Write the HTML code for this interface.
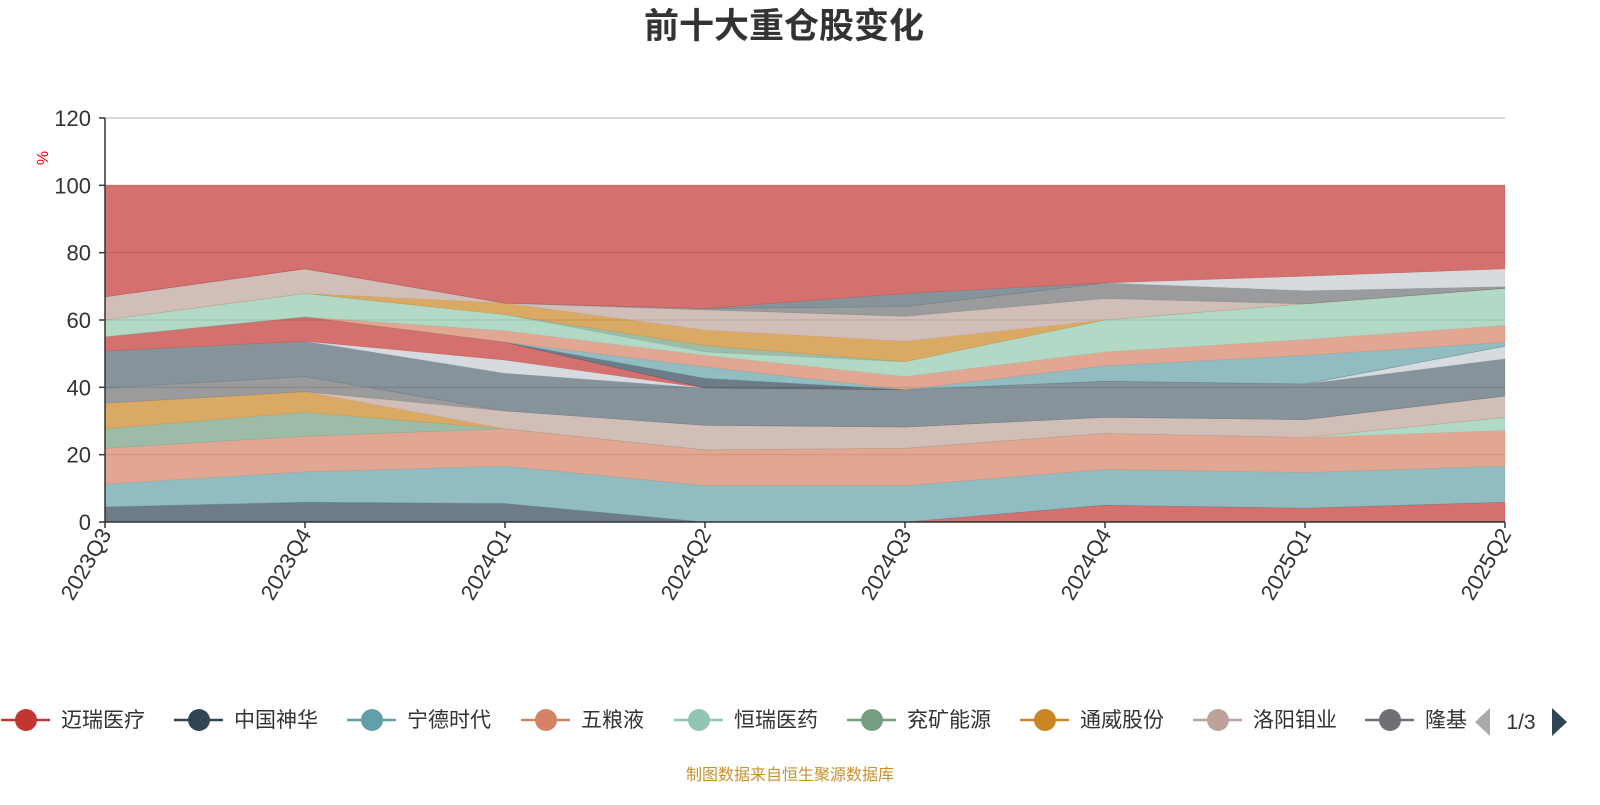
<!DOCTYPE html>
<html><head><meta charset="utf-8">
<style>
html,body{margin:0;padding:0;background:#fff;}
body{width:1600px;height:800px;overflow:hidden;font-family:"Liberation Sans","Noto Sans CJK SC",sans-serif;}
</style></head>
<body>
<svg id="chart" width="1600" height="800" xmlns="http://www.w3.org/2000/svg" font-family="Liberation Sans, Noto Sans CJK SC, sans-serif">
<text x="784" y="38" text-anchor="middle" font-size="35" font-weight="bold" fill="#333">前十大重仓股变化</text>
<g id="grid"></g>
<g id="areas"></g>
<g id="axes"></g>
<text x="48" y="158" fill="#e00" font-size="16" text-anchor="middle" transform="rotate(-90 48 158)">%</text>
<g id="legend"></g>
<g>
<polygon points="1490,708 1490,736 1475,722" fill="#aaa"/>
<text x="1521" y="729" text-anchor="middle" font-size="21" fill="#333">1/3</text>
<polygon points="1552,708 1552,736 1567,722" fill="#2f4554"/>
</g>
<text x="790" y="780" text-anchor="middle" font-size="16" fill="#c8912b">制图数据来自恒生聚源数据库</text>
</svg>
<script>
const categories = ["2023Q3","2023Q4","2024Q1","2024Q2","2024Q3","2024Q4","2025Q1","2025Q2"];
const yTicks = [0,20,40,60,80,100,120];
const seriesNames = ["迈瑞医疗","中国神华","宁德时代","五粮液","恒瑞医药","兖矿能源","通威股份","洛阳钼业","隆基绿能","紫金矿业","贵州茅台","招商银行","长江电力","美的集团","泸州老窖","药明康德","中国海油","万华化学","山西汾酒","伊利股份","海尔智家","比亚迪","其他"];
const s1 = [0,0,0,0,0,5.0,4.1,5.9];
const s2 = [4.5,5.9,5.5,0,0,0,0,0];
const s3 = [6.8,9.0,11.1,10.8,10.8,10.6,10.6,10.7];
const s4 = [10.6,10.6,11.1,10.6,11.1,10.7,10.4,10.6];
const s5 = [0,0,0,0,0,0,0,3.9];
const s6 = [5.8,7.1,0,0,0,0,0,0];
const s7 = [7.6,6.1,0,0,0,0,0,0];
const s8 = [0,0,5.3,7.3,6.3,4.8,5.3,6.3];
const s9 = [4.5,4.5,0,0,0,0,0,0];
const s10 = [11.0,10.5,11.2,11.1,11.1,10.7,10.6,11.1];
const s11 = [0,0,3.9,0,0,0,0,3.7];
const s12 = [4.2,7.2,5.3,0,0,0,0,0];
const s13 = [0,0,0,2.9,0,0,0,0];
const s14 = [0,0,0,3.4,0,4.6,8.5,1.2];
const s15 = [0,0,3.4,3.4,3.9,4.1,4.7,5.0];
const s16 = [5,7,4.8,1,4.4,9.5,10.6,11];
const s17 = [0,0,0,1.9,0,0,0,0];
const s18 = [0,0,3.4,4.6,6.1,0,0,0];
const s19 = [6.9,7.3,0,6.0,7.4,6.4,0,0];
const s20 = [0,0,0,0.4,2.9,4.6,3.9,0.5];
const s21 = [0,0,0,0,3.9,0,0,0];
const s22 = [0,0,0,0,0,0,4.3,5.3];
const totalTarget = [100,100,100,100,100,100,100,100];

const palette = ["#c23531","#2f4554","#61a0a8","#d48265","#91c7ae","#749f83","#ca8622","#bda29a","#6e7074","#546570","#c4ccd3"];
const NS="http://www.w3.org/2000/svg";
const X0=105,X1=1505,Y0=522,Y1=118,YMAX=120;
const xPos=i=>X0+i*(X1-X0)/(categories.length-1);
const yPos=v=>Y0-v*(Y0-Y1)/YMAX;
function mk(t,a,p){const e=document.createElementNS(NS,t);for(const k in a)e.setAttribute(k,a[k]);p.appendChild(e);return e;}

const grid=document.getElementById('grid');
yTicks.forEach(v=>{ if(v===0) return;
  const l=mk('line',{x1:X0,x2:X1,y1:yPos(v),y2:yPos(v),stroke:'#ccc','stroke-width':1.5},grid);
  
  
});

const list=[s1,s2,s3,s4,s5,s6,s7,s8,s9,s10,s11,s12,s13,s14,s15,s16,s17,s18,s19,s20,s21,s22];
const sums=categories.map((c,i)=>list.reduce((a,s)=>a+s[i],0));
list.push(totalTarget.map((t,i)=>t-sums[i]));
const areas=document.getElementById('areas');
let base=categories.map(()=>0);
list.forEach((s,k)=>{
  const top=base.map((b,i)=>b+s[i]);
  let d='M'+top.map((v,i)=>xPos(i)+','+yPos(v)).join(' L');
  for(let i=categories.length-1;i>=0;i--) d+=' L'+xPos(i)+','+yPos(base[i]);
  d+='Z';
  const col=palette[k%palette.length];
  const p=mk('path',{d:d,fill:col,'fill-opacity':0.7,stroke:col,'stroke-opacity':0.35,'stroke-width':0.6},areas);
  
  
  base=top;
});

const axes=document.getElementById('axes');
const ya=mk('line',{x1:X0,x2:X0,y1:Y1,y2:Y0,stroke:'#333','stroke-width':1.5},axes);


const xa=mk('line',{x1:X0,x2:X1,y1:Y0,y2:Y0,stroke:'#333','stroke-width':1.5},axes);


yTicks.forEach(v=>{
  mk('line',{x1:X0-6,x2:X0,y1:yPos(v),y2:yPos(v),stroke:'#333','stroke-width':1.5},axes);
  const t=mk('text',{x:X0-14,y:yPos(v)+8,'text-anchor':'end','font-size':22,fill:'#333'},axes);
  t.textContent=v;
  
  
});
categories.forEach((c,i)=>{
  const x=xPos(i);
  mk('line',{x1:x,x2:x,y1:Y0,y2:Y0+6,stroke:'#333','stroke-width':1.5},axes);
  const t=mk('text',{x:x+7,y:Y0+12,'text-anchor':'end','font-size':22,fill:'#333',transform:'rotate(-60 '+(x+7)+' '+(Y0+12)+')'},axes);
  t.textContent=c;
  
  
});

const legend=document.getElementById('legend');
const legendX=[1,174,347,521,674,847,1020,1193,1365];
legendX.forEach((lx,i)=>{
  const g=mk('g',{},legend);
  
  
  const col=palette[i];
  mk('line',{x1:lx,x2:lx+49,y1:720,y2:720,stroke:col,'stroke-width':2.5},g);
  mk('circle',{cx:lx+25,cy:720,r:11,fill:col},g);
  const t=mk('text',{x:lx+60,y:727,'font-size':21,fill:'#333'},g);
  t.textContent= i===8 ? '隆基' : seriesNames[i];
});
</script>
</body></html>
